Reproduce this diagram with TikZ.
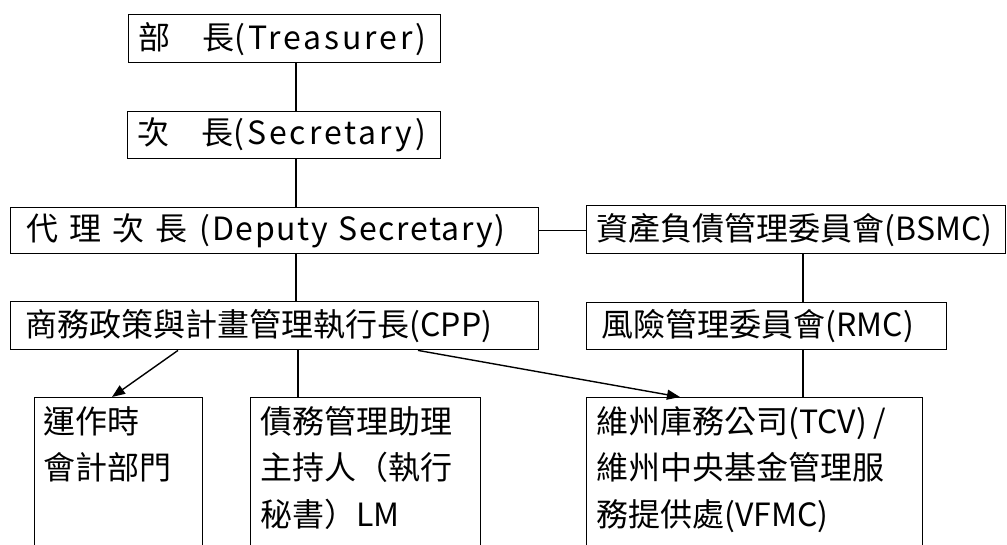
\documentclass[tikz,border=0pt]{standalone}
\usepackage{fontspec}
\setmainfont{Noto Sans CJK TC}
\usetikzlibrary{arrows.meta}
\newcommand{\wideltn}[2]{{\addfontfeature{LetterSpace=#1}#2}}
\begin{document}
\begin{tikzpicture}[x=1pt,y=-1pt,
  box/.style={draw,line width=1.4pt,inner xsep=10pt,inner ysep=0pt,anchor=north west,align=left,
    font=\fontsize{32}{46}\selectfont},
  openbox/.style={draw,line width=1.4pt,inner sep=0pt,anchor=north west,minimum height=200pt},
  txt/.style={inner sep=0pt,anchor=north west,align=left,font=\fontsize{32}{46.5}\selectfont},
  conn/.style={line width=1.4pt},
  arr/.style={line width=1.4pt,-{Triangle[length=13pt,width=10pt]}}]
\useasboundingbox (0,0) rectangle (1007,544);
\clip (0,0) rectangle (1007,544);
\fill[white] (0,0) rectangle (1007,544);
% boxes
\node[box,text width=292pt,minimum height=48pt] (tr) at (128,14) {部　長\wideltn{9}{(Treasurer)}};
\node[box,text width=293pt,minimum height=47pt] (sec) at (127,111) {次　長\wideltn{9}{(Secretary)}};
\node[box,inner xsep=0pt,text width=528pt,minimum height=46pt] (dep) at (10,207) {\hspace{16pt}代\hspace{11pt}理\hspace{11pt}次\hspace{11pt}長\hspace{12pt}\wideltn{5}{(Deputy Secretary)}};
\node[box,text width=399pt,minimum height=48pt] (bsmc) at (586,205) {資產負債管理委員會(BSMC)};
\node[box,inner xsep=15pt,text width=498pt,minimum height=48pt] (cpp) at (10,301) {商務政策與計畫管理執行長(CPP)};
\node[box,inner xsep=15pt,text width=330pt,minimum height=47pt] (rmc) at (586,302) {風險管理委員會(RMC)};
\node[openbox,minimum width=168pt] (b1) at (34,397) {};
\node[openbox,minimum width=230pt] (b2) at (250,397) {};
\node[openbox,minimum width=336pt] (b3) at (586,397) {};
\node[txt] (b1t) at ([xshift=9pt,yshift=-9pt]b1.north west) {運作時\\會計部門};
\node[txt] (b2t) at ([xshift=10pt,yshift=-9pt]b2.north west) {債務管理助理\\主持人（執行\\秘書）LM};
\node[txt] (b3t) at ([xshift=10pt,yshift=-9pt]b3.north west) {維州庫務公司(TCV) /\\維州中央基金管理服\\務提供處(VFMC)};
% connectors
\coordinate (spine) at (296,0);
\coordinate (spine2) at (298,0);
\coordinate (rspine) at (803,0);
\draw[conn] (tr.south -| spine) -- (sec.north -| spine);
\draw[conn] (sec.south -| spine) -- (dep.north -| spine);
\draw[conn] (dep.south -| spine) -- (cpp.north -| spine);
\draw[conn] (cpp.south -| spine2) -- (b2.north -| spine2);
\draw[conn] (dep.east) -- (dep.east -| bsmc.west);
\draw[conn] (bsmc.south -| rspine) -- (rmc.north -| rspine);
\draw[conn] (rmc.south -| rspine) -- (b3.north -| rspine);
\draw[arr] ([xshift=168pt]cpp.south west) -- ([xshift=78pt]b1.north west);
\draw[arr] ([xshift=408pt]cpp.south west) -- ([xshift=94pt]b3.north west);
\end{tikzpicture}
\end{document}
